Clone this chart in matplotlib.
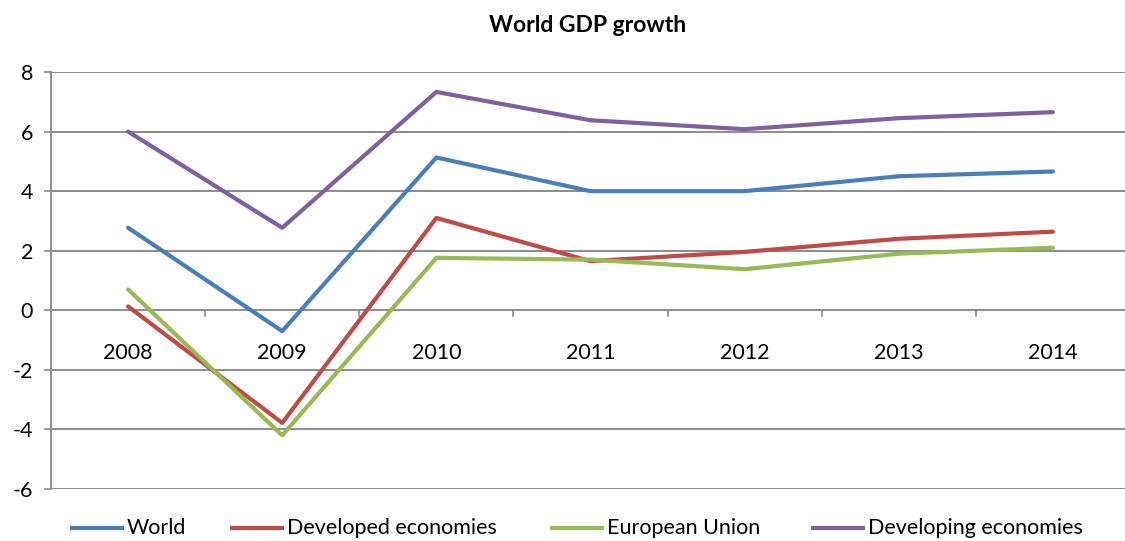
import matplotlib
matplotlib.use("Agg")
import matplotlib.pyplot as plt
import matplotlib.transforms as mtransforms
from matplotlib.lines import Line2D

years = ["2008", "2009", "2010", "2011", "2012", "2013", "2014"]
world = [2.77, -0.70, 5.13, 4.00, 4.00, 4.50, 4.66]
developed = [0.13, -3.78, 3.10, 1.65, 1.96, 2.40, 2.64]
eu = [0.70, -4.20, 1.76, 1.70, 1.38, 1.90, 2.10]
developing = [6.00, 2.77, 7.33, 6.38, 6.08, 6.45, 6.65]
y_ticks = [-6, -4, -2, 0, 2, 4, 6, 8]

plt.rcParams['font.family'] = ['Lato', 'DejaVu Sans']

W, H = 1125, 541
fig = plt.figure(figsize=(W/100, H/100), dpi=100)
left, right, top, bottom = 51, 1130, 72, 489
ax = fig.add_axes([left/W, 1-bottom/H, (right-left)/W, (bottom-top)/H])

grid_c = '#8c8c8c'
for yv in y_ticks:
    ax.axhline(yv, color=grid_c, lw=1.4, zorder=1)

x = list(range(len(years)))
series = [
    (world, '#4A7EBB', 'World'),
    (developed, '#BE4B48', 'Developed economies'),
    (eu, '#98B954', 'European Union'),
    (developing, '#7D60A0', 'Developing economies'),
]
for vals, c, lab in series:
    ax.plot(x, vals, color=c, lw=3.0, solid_capstyle='round', solid_joinstyle='round', label=lab, zorder=3)

ax.set_xlim(-0.5, 6.5)
ax.set_ylim(-6, 8)
ax.set_yticks(y_ticks)
ax.set_yticklabels([str(v) for v in y_ticks], fontsize=15.5)
ax.tick_params(axis='y', length=5, color=grid_c, width=1.2, pad=8)
ax.set_xticks([])
for s in ['top', 'right', 'bottom']:
    ax.spines[s].set_visible(False)
ax.spines['left'].set_color(grid_c)
ax.spines['left'].set_linewidth(1.4)

# category boundary ticks on the zero line
for b in [i + 0.5 for i in range(-1, 7)]:
    ax.plot([b, b], [0, -0.2], color=grid_c, lw=1.2, zorder=1, clip_on=False)

offset = mtransforms.offset_copy(ax.transData, fig=fig, x=0, y=-33, units='dots')
for i, lab in enumerate(years):
    ax.text(i, 0, lab, transform=offset, ha='center', va='top', fontsize=15.5)

fig.text(588/W, 1-25/H, 'World GDP growth', ha='center', va='center', fontsize=16.5, fontweight='bold')

# legend row at bottom
leg_x = [72, 232, 552, 813]
leg_y = 1 - 528/H
for (vals, c, lab), lx in zip(series, leg_x):
    fig.add_artist(Line2D([lx/W, (lx+50)/W], [leg_y, leg_y], color=c, lw=3.0, transform=fig.transFigure))
    fig.text((lx+55)/W, leg_y, lab, ha='left', va='center', fontsize=15.5)

fig.savefig('out.png', dpi=100)
